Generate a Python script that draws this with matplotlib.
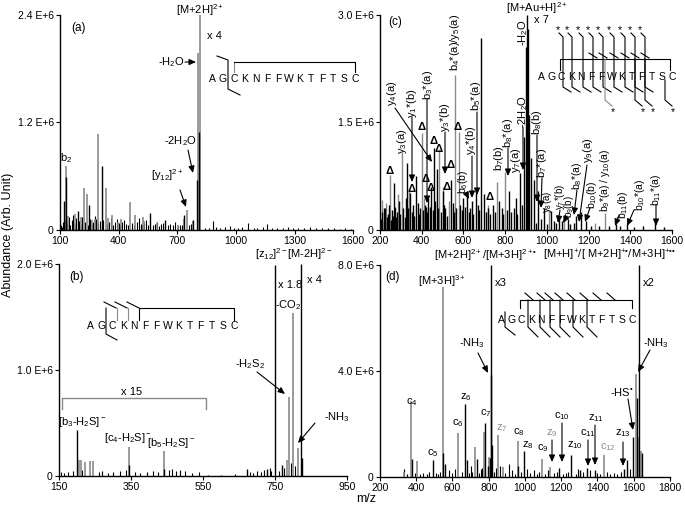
import numpy as np
import matplotlib
matplotlib.use('Agg')
import matplotlib.pyplot as plt
from matplotlib.lines import Line2D
from matplotlib.patches import FancyArrowPatch

plt.rcParams['font.family'] = ['Liberation Sans', 'DejaVu Sans']
plt.rcParams['mathtext.fontset'] = 'custom'
plt.rcParams['mathtext.rm'] = 'Liberation Sans'
plt.rcParams['mathtext.it'] = 'Liberation Sans'

GRAY = '#8a8a8a'
W, H = 685, 505

# ---- spectrum (a), intensities in E+6
a_gray_mz = [131, 223, 238, 295, 335, 458, 484, 525, 750, 805, 817,
             140, 175, 208, 262, 280, 345, 365, 395, 412, 530, 595, 702, 735, 780]
a_gray_int = [0.71, 0.47, 0.40, 1.07, 0.47, 0.31, 0.17, 0.15, 0.22, 1.98, 2.40,
              0.16, 0.18, 0.15, 0.11, 0.12, 0.13, 0.17, 0.09, 0.12, 0.10, 0.08, 0.06, 0.12, 0.10]
a_black_mz = [120, 131, 192, 248, 315, 561, 637, 735, 781, 800, 812]
a_black_int = [0.32, 0.59, 0.21, 0.28, 0.71, 0.19, 0.11, 0.17, 0.11, 0.56, 1.09]
a_noise_mz = [105, 110, 116, 126, 138, 145, 152, 160, 168, 176, 184, 198, 206, 214, 228, 242, 256, 262, 270, 278,
              286, 292, 305, 322, 342, 350, 360, 370, 380, 390, 400, 408, 418, 428, 438, 446, 470, 478, 494, 502,
              512, 520, 532, 540, 552, 575, 585, 596, 606, 616, 626, 652, 664, 676, 690, 702, 712, 726, 760, 770]
a_noise_int = [0.06, 0.03, 0.09, 0.12, 0.08, 0.15, 0.06, 0.11, 0.17, 0.07, 0.13, 0.10, 0.06, 0.14, 0.09, 0.06, 0.12, 0.07, 0.09, 0.16,
               0.12, 0.08, 0.10, 0.11, 0.07, 0.09, 0.13, 0.06, 0.09, 0.12, 0.08, 0.06, 0.09, 0.11, 0.07, 0.06, 0.08, 0.06, 0.09, 0.13,
               0.07, 0.06, 0.08, 0.11, 0.06, 0.05, 0.07, 0.09, 0.04, 0.07, 0.08, 0.06, 0.07, 0.05, 0.09, 0.04, 0.06, 0.05, 0.05, 0.07]
a_high_mz = [840, 860, 884, 900, 920, 945, 970, 990, 1010, 1030, 1063, 1090, 1110, 1140, 1160,
             1185, 1210, 1240, 1265, 1290, 1320, 1350, 1380, 1410, 1440, 1470, 1500, 1530, 1560, 1590]
a_high_int = [0.02, 0.025, 0.10, 0.03, 0.02, 0.03, 0.045, 0.025, 0.02, 0.03, 0.075, 0.025, 0.02, 0.03, 0.065,
              0.02, 0.025, 0.02, 0.03, 0.02, 0.025, 0.02, 0.03, 0.02, 0.025, 0.02, 0.02, 0.015, 0.02, 0.015]

# ---- spectrum (b)
b_gray_mz = [205, 212, 222, 235, 245, 345, 442, 783, 789, 800, 813]
b_gray_int = [0.15, 0.15, 0.13, 0.14, 0.14, 0.27, 0.24, 0.15, 0.75, 1.54, 0.26]
b_black_mz = [200, 345, 442, 672, 727, 750, 769, 822, 825]
b_black_int = [0.43, 0.10, 0.07, 0.07, 0.07, 1.99, 0.10, 2.00, 0.17]
b_noise_mz = [155, 165, 175, 190, 215, 260, 270, 285, 300, 320, 335, 360, 375, 395, 410, 425, 455, 465, 475,
              485, 500, 520, 540, 565, 600, 640, 680, 690, 700, 710, 720, 735, 740, 760, 775, 795, 805]
b_noise_int = [0.04, 0.03, 0.04, 0.05, 0.06, 0.04, 0.05, 0.03, 0.04, 0.05, 0.06, 0.04, 0.03, 0.04, 0.05, 0.04, 0.06, 0.07, 0.05,
               0.06, 0.05, 0.03, 0.04, 0.01, 0.01, 0.02, 0.04, 0.03, 0.05, 0.04, 0.06, 0.08, 0.05, 0.05, 0.08, 0.12, 0.09]

# ---- spectrum (c)
c_gray_mz = [210, 228, 248, 285, 305, 340, 400, 410, 484, 500, 530, 560, 578, 720, 761, 800, 1010, 1080, 1230, 1279]
c_gray_int = [0.42, 0.38, 0.77, 0.50, 1.09, 0.55, 1.35, 0.45, 1.13, 0.60, 0.40, 2.16, 1.37, 0.35, 0.67, 0.81,
              0.28, 0.15, 0.10, 0.24]
c_black_mz = [220, 265, 329, 345, 372, 420, 445, 459, 473, 500, 540, 600, 617, 640, 660, 684, 700, 740, 770, 820,
              850, 871, 890, 898, 905, 910, 915, 922, 940, 958, 985, 1020, 1060, 1100, 1140, 1165, 1190, 1330, 1385, 1520]
c_black_int = [0.30, 0.65, 0.93, 0.52, 0.75, 0.32, 0.60, 1.14, 0.85, 0.55, 0.70, 0.45, 0.49, 0.40, 0.55, 2.68, 0.50,
               0.35, 0.40, 0.55, 0.45, 0.80, 1.30, 2.55, 3.00, 2.80, 1.60, 1.00, 0.70, 0.55, 0.30, 0.26, 0.20, 0.15,
               0.20, 0.25, 0.12, 0.09, 0.08, 0.10]
c_noise_mz = [205, 212, 218, 225, 232, 238, 244, 252, 258, 264, 270, 276, 282, 290, 296, 312, 318, 324, 336, 352,
              358, 364, 380, 386, 392, 405, 414, 426, 432, 440, 452, 466, 478, 492, 506, 514, 522, 548, 556, 566,
              586, 594, 606, 626, 634, 648, 668, 676, 708, 716, 728, 750, 784, 792, 808, 830, 842, 858, 880, 950,
              970, 1000, 1035, 1045, 1075, 1110, 1130, 1210, 1250, 1300, 1350, 1420, 1460, 1560]
c_noise_int = [0.15, 0.25, 0.12, 0.30, 0.18, 0.22, 0.35, 0.14, 0.28, 0.20, 0.32, 0.18, 0.25, 0.40, 0.22, 0.30, 0.18, 0.45, 0.30, 0.25,
               0.35, 0.20, 0.38, 0.22, 0.30, 0.28, 0.35, 0.25, 0.45, 0.32, 0.28, 0.40, 0.30, 0.25, 0.35, 0.30, 0.20, 0.38, 0.25, 0.30,
               0.35, 0.28, 0.32, 0.25, 0.30, 0.22, 0.35, 0.28, 0.25, 0.30, 0.22, 0.25, 0.30, 0.22, 0.28, 0.25, 0.30, 0.22, 0.35, 0.10,
               0.15, 0.08, 0.12, 0.10, 0.12, 0.08, 0.10, 0.06, 0.05, 0.06, 0.05, 0.04, 0.05, 0.04]

# ---- spectrum (d)
d_gray_mz = [335, 373, 404, 549, 633, 724, 776, 800, 851, 876, 960, 1094, 1140, 1436, 1613, 1630, 1640]
d_gray_int = [0.20, 2.86, 0.60, 7.18, 1.66, 1.13, 1.70, 0.76, 1.57, 0.38, 1.35, 0.69, 0.38, 0.82, 3.90, 1.50, 1.00]
d_black_mz = [378, 491, 545, 560, 667, 682, 736, 782, 795, 805, 811, 815, 820, 962, 996, 1190, 1255, 1305, 1340,
              1385, 1545, 1564, 1595, 1618, 1627, 1645]
d_black_int = [0.69, 0.63, 0.90, 0.50, 2.77, 0.65, 0.69, 2.04, 0.40, 0.70, 3.84, 8.00, 1.20, 0.40, 0.98, 0.35, 0.82,
               0.28, 0.35, 0.25, 0.30, 0.63, 1.51, 3.00, 8.00, 0.90]
d_noise_mz = [330, 350, 395, 420, 440, 460, 470, 510, 520, 530, 580, 600, 615, 650, 690, 700, 710, 745, 755, 765,
              830, 840, 860, 890, 910, 930, 945, 980, 1010, 1030, 1050, 1065, 1080, 1110, 1125, 1160, 1175, 1210, 1225, 1240,
              1280, 1290, 1320, 1360, 1400, 1415, 1450, 1470, 1490, 1510, 1530, 1580]
d_noise_int = [0.3, 0.1, 0.15, 0.1, 0.15, 0.1, 0.2, 0.15, 0.1, 0.2, 0.25, 0.15, 0.3, 0.2, 0.15, 0.4, 0.2, 0.15, 0.3, 0.35,
               0.2, 0.35, 0.4, 0.15, 0.5, 0.25, 0.1, 0.2, 0.3, 0.15, 0.25, 0.1, 0.2, 0.1, 0.25, 0.15, 0.2, 0.1, 0.15, 0.2,
               0.1, 0.3, 0.2, 0.25, 0.15, 0.1, 0.2, 0.1, 0.15, 0.1, 0.2, 0.3]

seq_letters = 'AGCKNFFWKTFTSC'

fig = plt.figure(figsize=(6.85, 5.05), dpi=100)
ax_a = fig.add_axes([0.0876, 0.5446, 0.428, 0.4257])
ax_c = fig.add_axes([0.5547, 0.5446, 0.4263, 0.4257])
ax_b = fig.add_axes([0.0861, 0.0574, 0.4204, 0.4198])
ax_d = fig.add_axes([0.5547, 0.0554, 0.4234, 0.4198])


def setup(ax, xlim, xticks, ymax, ylabels):
    ax.set_xlim(xlim)
    ax.set_ylim(0, ymax)
    ax.set_xticks(xticks)
    ax.set_yticks([0, ymax / 2, ymax])
    ax.set_yticklabels(ylabels)
    for s in ['top', 'right']:
        ax.spines[s].set_visible(False)
    ax.spines['left'].set_linewidth(1.0)
    ax.spines['bottom'].set_linewidth(1.0)
    ax.tick_params(direction='out', length=3, width=0.8, labelsize=7.5, pad=1.5)


def spec(ax, mz, inten, color, lw=0.8):
    ax.vlines(mz, 0, np.array(inten) * 1e6, colors=color, lw=lw)


def P(x, y):
    return x / W, 1 - y / H


def T(x, y, s, size=8, color='k', rot=0, **kw):
    fig.text(*P(x, y), s, ha='center', va='center', fontsize=size, color=color, rotation=rot, **kw)


def R(x, y, s, size=8):
    T(x, y, s, size=size, rot=90)


def L(xs, ys, color='k', lw=0.8):
    fig.add_artist(Line2D([x / W for x in xs], [1 - y / H for y in ys], color=color, lw=lw,
                          transform=fig.transFigure))


def A(x0, y0, x1, y1):
    fig.add_artist(FancyArrowPatch(P(x0, y0), P(x1, y1), transform=fig.transFigure,
                                   arrowstyle='-|>,head_length=0.45,head_width=0.2', mutation_scale=9,
                                   lw=0.8, color='k', shrinkA=0, shrinkB=0))


def seq(x0, x1, y):
    step = (x1 - x0) / (len(seq_letters) - 1)
    for i, ch in enumerate(seq_letters):
        T(x0 + i * step, y, ch, size=7.5)


# (a)
spec(ax_a, a_noise_mz, a_noise_int, 'k')
spec(ax_a, a_high_mz, a_high_int, 'k')
spec(ax_a, a_gray_mz, a_gray_int, GRAY, lw=1.2)
spec(ax_a, a_black_mz, a_black_int, 'k', lw=1.0)
setup(ax_a, (100, 1600), [100, 400, 700, 1000, 1300, 1600], 2.4e6, ['0', '1.2 E+6', '2.4 E+6'])

# (c)
spec(ax_c, c_gray_mz, c_gray_int, GRAY, lw=1.0)
spec(ax_c, c_noise_mz, c_noise_int, 'k', lw=1.0)
spec(ax_c, c_black_mz, c_black_int, 'k', lw=1.0)
setup(ax_c, (200, 1600), list(range(200, 1601, 200)), 3.0e6, ['0', '1.5 E+6', '3.0 E+6'])

# (b)
spec(ax_b, b_noise_mz, b_noise_int, 'k')
spec(ax_b, b_gray_mz, b_gray_int, GRAY, lw=1.2)
spec(ax_b, b_black_mz, b_black_int, 'k', lw=1.0)
setup(ax_b, (150, 950), [150, 350, 550, 750, 950], 2.0e6, ['0', '1.0 E+6', '2.0 E+6'])

# (d)
spec(ax_d, d_noise_mz, d_noise_int, 'k')
spec(ax_d, d_gray_mz, d_gray_int, GRAY, lw=1.2)
spec(ax_d, d_black_mz, d_black_int, 'k', lw=1.0)
setup(ax_d, (200, 1800), list(range(200, 1801, 200)), 8.0e6, ['0', '4.0 E+6', '8.0 E+6'])

fig.text(8 / W, 1 - 235 / H, 'Abundance (Arb. Unit)', rotation=90, ha='center', va='center', fontsize=9)
T(366, 499, 'm/z', size=9)

# ---- annotations (a)
T(79, 28, '(a)', size=8.5)
T(200, 10, '[M+2H]$^{2+}$')
T(214, 36, 'x 4')
T(171, 62, '-H$_2$O'); A(185, 62, 196, 62)
T(180, 141, '-2H$_2$O'); A(188, 150, 193, 173)
T(167, 175, '[y$_{12}$]$^{2+}$'); A(180, 190, 186, 207)
T(66, 158, 'b$_2$')
seq(212, 355, 79)
L([234, 234], [72, 62], GRAY)
L([234, 355, 355], [62, 62, 72])
L([217, 228, 228, 240], [56, 60, 89, 95])

# ---- annotations (b)
T(76, 277, '(b)', size=8.5)
T(271, 254, '[z$_{12}$]$^{2-}$')
T(310, 254, '[M-2H]$^{2-}$')
T(290, 285, 'x 1.8')
T(314, 280, 'x 4')
T(288, 305, '-CO$_2$')
T(250, 364, '-H$_2$S$_2$'); A(257, 372, 285, 394)
T(337, 417, '-NH$_3$'); A(315, 423, 298, 443)
T(132, 392, 'x 15')
L([62, 62, 206, 206], [409, 398, 398, 409], GRAY, lw=1.0)
T(82, 422, '[b$_3$-H$_2$S]$^-$')
T(128, 438, '[c$_4$-H$_2$S]$^-$')
T(171, 443, '[b$_5$-H$_2$S]$^-$')
seq(90, 234, 326)
L([139, 234, 234], [308, 308, 320])
L([117, 117], [308, 320], GRAY)
L([128, 128], [308, 320], GRAY)
L([139, 139], [308, 320])
for x in [104, 115, 127]:
    L([x, x + 12], [302, 308])
L([106, 106, 117], [308, 334, 340])

# ---- annotations (c)
T(395, 22, '(c)', size=8.5)
T(537, 8, '[M+Au+H]$^{2+}$')
T(541, 20, 'x 7')
R(523, 33, '-H$_2$O')
R(392, 93, 'y$_4$(a)'); A(395, 108, 432, 162)
R(412, 103, 'y$_1$*(b)'); A(412, 117, 412, 182)
R(402, 141, 'y$_3$(a)')
R(428, 85, 'b$_3$*(a)'); A(427, 99, 427, 203)
R(445, 117, 'y$_3$*(b)'); A(445, 132, 445, 174)
R(455, 42, 'b$_4$*(a)/y$_5$(a)')
R(476, 96, 'b$_5$*(a)'); A(477, 112, 477, 195)
R(471, 140, 'y$_4$*(b)'); A(472, 156, 472, 198)
R(463, 182, 'b$_6$(b)', size=7.5); A(466, 193, 469, 199)
R(499, 158, 'b$_7$(b)')
R(508, 133, 'b$_8$*(a)'); A(508, 148, 508, 176)
R(516, 160, 'y$_7$(a)')
R(523, 112, '-2H$_2$O'); A(523, 127, 523, 170)
R(537, 122, 'b$_8$(b)'); A(537, 135, 537, 202)
R(542, 163, 'b$_7$*(a)'); A(542, 178, 541, 208)
R(547, 202, 'y$_8$(a)', size=7)
R(560, 197, 'y$_7$*(b)', size=7); A(560, 210, 558, 223)
R(569, 207, 'b$_9$(b)', size=7); A(567, 216, 563, 223)
R(577, 176, 'b$_8$*(a)', size=7.5); A(577, 190, 574, 215)
R(588, 150, 'y$_9$(a)'); A(587, 165, 579, 222)
R(592, 195, 'b$_{10}$(b)', size=7.5); A(590, 208, 585, 222)
R(605, 180, 'b$_9$*(a) / y$_{10}$(a)', size=7.5)
R(623, 205, 'b$_{11}$(b)', size=7.5); A(619, 215, 615, 226)
R(640, 195, 'b$_{10}$*(a)', size=7.5); A(634, 210, 627, 226)
R(656, 190, 'b$_{11}$*(a)', size=7.5); A(656, 205, 656, 226)
for x, y in [(390, 171), (412, 189), (422, 127), (426, 179), (431, 188), (434, 141), (439, 149),
             (447, 187), (451, 165), (458, 127), (490, 197)]:
    T(x, y, 'Δ', size=8, fontweight='bold')
seq(541, 672, 77)
L([560, 560, 670, 670], [70, 59, 59, 70])
for x in [558, 567, 578, 588, 598, 609, 620, 630, 640]:
    T(x, 30, '*', size=7.5)
    L([x + 1, x + 5, x + 5, x + 13], [33, 37, 87, 92])
for x in [589, 599, 610, 621, 631, 641]:
    L([x, x + 8], [53, 58])
for x in [613, 643, 653]:
    T(x, 112, '*', size=7.5)
    L([x - 8, x - 8, x - 1], [59, 100, 106], GRAY if x == 613 else 'k')
T(673, 112, '*', size=7.5)
L([665, 665, 672], [80, 100, 106])

# ---- annotations (d)
T(393, 277, '(d)', size=8.5)
T(442, 281, '[M+3H]$^{3+}$')
T(486, 255, '[M+2H]$^{2+}$/[M+3H]$^{2+•}$')
T(609, 255, '[M+H]$^{+}$/[ M+2H]$^{+•}$/M+3H]$^{+••}$')
T(501, 283, 'x3')
T(649, 283, 'x2')
T(472, 343, '-NH$_3$'); A(478, 353, 488, 373)
T(656, 343, '-NH$_3$'); A(650, 350, 638, 372)
T(622, 392, '-HS$^{•}$'); A(628, 399, 633, 430)
T(412, 402, 'c$_4$'); T(433, 453, 'c$_5$'); T(466, 397, 'z$_6$'); T(458, 423, 'c$_6$')
T(486, 413, 'c$_7$'); T(502, 428, 'z$_7$', color=GRAY); T(519, 432, 'c$_8$'); T(528, 445, 'z$_8$')
T(543, 448, 'c$_9$'); T(575, 445, 'z$_{10}$'); T(608, 447, 'c$_{12}$', color=GRAY)
T(552, 433, 'z$_9$', color=GRAY); A(552, 440, 552, 462)
T(562, 416, 'c$_{10}$'); A(562, 423, 562, 462)
T(588, 433, 'c$_{11}$'); A(588, 440, 588, 466)
T(596, 418, 'z$_{11}$'); A(595, 425, 595, 465)
T(623, 433, 'z$_{13}$'); A(623, 442, 623, 466)
seq(501, 632, 320)
L([520, 520, 632, 632], [308, 300, 300, 308])
for x in [525, 537, 545, 555, 567, 580, 593, 607]:
    L([x, x + 8], [293, 300])
for x in [528, 540, 550, 560, 573, 587]:
    L([x, x, x + 10], [300, 327, 337])
L([505, 505, 515], [312, 327, 335])

fig.savefig('out.png', dpi=100)
